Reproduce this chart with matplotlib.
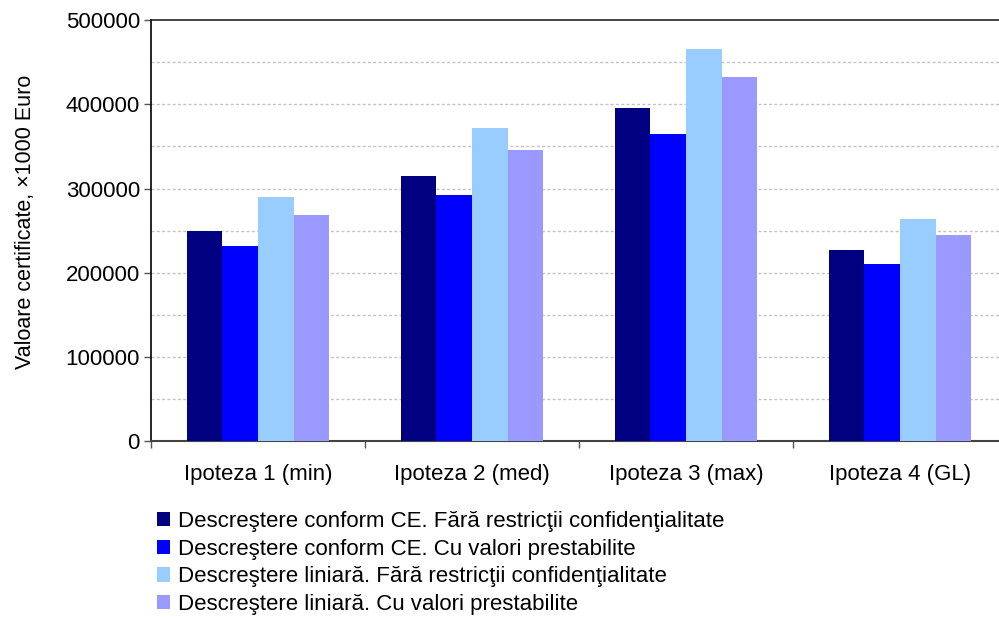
import numpy as np
import matplotlib
matplotlib.use('Agg')
import matplotlib.pyplot as plt
from matplotlib.patches import Patch

plt.rcParams['font.family'] = ['Liberation Sans', 'DejaVu Sans']

# Valori certificate pe ipoteze (x1000 Euro)
categories = ['Ipoteza 1 (min)', 'Ipoteza 2 (med)', 'Ipoteza 3 (max)', 'Ipoteza 4 (GL)']
ce_fara = [250000, 315000, 395000, 227000]
ce_cu = [232000, 292500, 365000, 210500]
lin_fara = [290000, 372000, 466000, 264000]
lin_cu = [269000, 346000, 432500, 245000]

series = [ce_fara, ce_cu, lin_fara, lin_cu]
labels = ['Descreştere conform CE. Fără restricţii confidenţialitate',
          'Descreştere conform CE. Cu valori prestabilite',
          'Descreştere liniară. Fără restricţii confidenţialitate',
          'Descreştere liniară. Cu valori prestabilite']
colors = ['#000080', '#0000FF', '#99CCFF', '#9999FF']

fs = 16

fig = plt.figure(figsize=(9.99, 6.17), dpi=100)
ax = fig.add_axes([151/999, 1 - 441.3/617, 856/999, 421.3/617])

x = np.arange(len(categories)) + 0.5
w = 1/6
for i, (vals, col) in enumerate(zip(series, colors)):
    ax.bar(x + (i - 1.5) * w, vals, width=w, color=col, zorder=3)

ax.set_xlim(0, 4)
ax.set_ylim(0, 500000)

# grila punctata la fiecare 50000
for g in range(50000, 500000, 50000):
    ax.axhline(g, color='#c4c4c4', lw=1.0, ls=(0, (2.2, 1.6)), zorder=1)

ax.set_yticks(range(0, 500001, 100000))
ax.tick_params(axis='y', direction='out', length=5, width=1, color='#555555',
               labelsize=fs, pad=3)
ax.set_xticks([0, 1, 2, 3, 4])
ax.set_xticklabels([])
ax.set_xticks(x, minor=True)
ax.set_xticklabels(categories, minor=True, fontsize=fs)
ax.tick_params(axis='x', which='major', direction='out', length=5, width=1, color='#555555')
ax.tick_params(axis='x', which='minor', length=0, pad=16)

ax.spines['right'].set_visible(False)
ax.spines['left'].set_color('black')
ax.spines['left'].set_linewidth(1.2)
ax.spines['top'].set_color('#222222')
ax.spines['top'].set_linewidth(1.2)
ax.spines['bottom'].set_color('#444444')
ax.spines['bottom'].set_linewidth(1.5)

ax.set_ylabel('Valoare certificate, ×1000 Euro', fontsize=15.5)
ax.yaxis.set_label_coords(-0.1345, 0.52)

handles = [Patch(facecolor=c, edgecolor='none') for c in colors]
fig.legend(handles, labels, loc='upper left', bbox_to_anchor=(157/999, 1 - 511/617),
           frameon=False, fontsize=fs, handlelength=0.6, handleheight=0.6,
           handletextpad=0.36, labelspacing=0.3, borderaxespad=0, borderpad=0)

fig.savefig('out.png', dpi=100)
